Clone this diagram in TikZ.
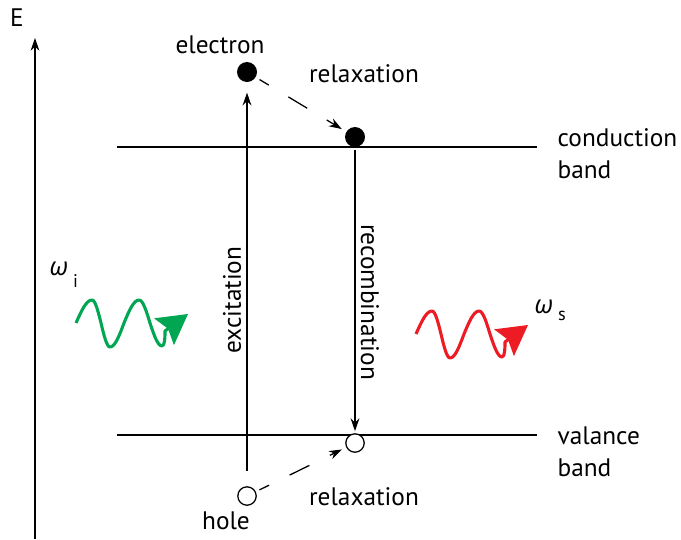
\documentclass[tikz,border=0pt]{standalone}
\usepackage{fontspec}
\setmainfont{PT Sans}
\newfontfamily\greekfont{Open Sans}
\usetikzlibrary{arrows.meta, positioning}
\definecolor{photongreen}{RGB}{0,166,81}
\definecolor{photonred}{RGB}{237,28,36}

\begin{document}
\begin{tikzpicture}[
    x=0.025cm, y=-0.025cm,
    >={Stealth[length=0.32cm, width=0.22cm]},
    line width=0.9pt,
    edot/.style={circle, fill=black, minimum size=0.5cm, inner sep=0pt},
    hdot/.style={circle, draw=black, line width=0.9pt, fill=white,
                 minimum size=0.46cm, inner sep=0pt},
    lbl/.style={font=\fontsize{18}{23}\selectfont, inner sep=0pt},
    omega/.style={font=\fontsize{18}{23}\selectfont, inner sep=0pt, anchor=base west},
    relax/.style={->, dash pattern=on 0.55cm off 0.57cm, dash phase=0.28cm},
    photon/.style={line width=2.2pt, line join=round,
                   -{Stealth[length=0.74cm, width=0.82cm, inset=0.12cm]}}
]
\useasboundingbox (0,0) rectangle (681,539);

\node[lbl] (E) at (17,18) {E};
\coordinate (Ebot) at (35,539);
\coordinate (Etop) at (35,38);
\draw[->] (Ebot) -- (Etop);

\coordinate (cbl) at (117,147);
\coordinate (cbr) at (537,147);
\coordinate (vbl) at (117,435);
\coordinate (vbr) at (537,435);
\draw (cbl) -- (cbr);
\draw (vbl) -- (vbr);

\node[edot] (e1) at (247,72) {};
\node[edot] (e2) at (355,137) {};
\node[hdot] (h1) at (247,496) {};
\node[hdot] (h2) at (355,443) {};

\draw[->, shorten <=0.38cm, shorten >=0.25cm] (h1) -- (e1);
\draw[->, shorten <=0.05cm, shorten >=0.05cm] (e2) -- (h2);
\draw[relax, shorten <=0.1cm, shorten >=0.12cm] (e1) -- (e2);
\draw[relax, shorten <=0.1cm, shorten >=0.12cm] (h1) -- (h2);

\node[lbl] (electron) at (220,45) {electron};
\node[lbl] (relaxup) at (364,74) {relaxation};
\node[lbl] (hole) at (226,521) {hole};
\node[lbl] (relaxlow) at (364,497) {relaxation};
\node[lbl, anchor=west, align=left] (cband) at (557,154) {conduction\\band};
\node[lbl, anchor=west, align=left] (vband) at (557,452) {valance\\band};
\node[lbl, rotate=90] (excite) at (232,300) {excitation};
\node[lbl, rotate=-90] (recomb) at (370,302) {recombination};
\node[omega] (wi) at (49,275) {{\greekfont\itshape ω}\hspace{0.2em}\raisebox{-0.5em}{\fontsize{13}{13}\selectfont i}};
\node[omega] (ws) at (534,313) {{\greekfont\itshape ω}\hspace{0.2em}\raisebox{-0.3em}{\fontsize{13}{13}\selectfont s}};

\draw[photon, photongreen] (76,323) sin (92,300) cos (101,323) sin (110,347)
    cos (124,323) sin (139,300) cos (150,323) sin (162,346)
    .. controls (165,346) and (165,336) .. (165,331) -- (188,314);
\draw[photon, photonred, shift={(340,11)}] (76,323) sin (92,300) cos (101,323) sin (110,347)
    cos (124,323) sin (139,300) cos (150,323) sin (162,346)
    .. controls (165,346) and (165,336) .. (165,331) -- (188,314);
\end{tikzpicture}
\end{document}
